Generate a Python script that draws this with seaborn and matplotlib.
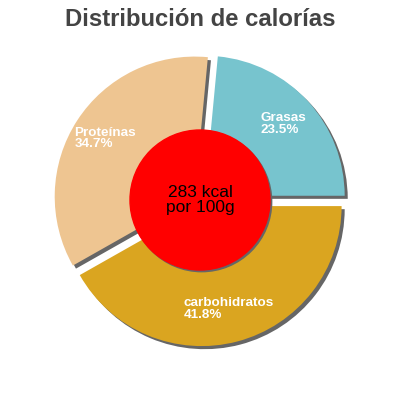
import matplotlib
matplotlib.use("Agg")
import matplotlib.pyplot as plt
import seaborn as sns

sns.set_style("white")
plt.rcParams['font.family'] = ['Liberation Sans', 'DejaVu Sans']

categories = ["Grasas", "Proteínas", "carbohidratos"]
values = [23.5, 34.7, 41.8]
pct_labels = ["23.5%", "34.7%", "41.8%"]
colors = ["#77c4ce", "#eec591", "#daa520"]
title = "Distribución de calorías"
center_text = "283 kcal\npor 100g"

fig = plt.figure(figsize=(4, 4), dpi=100)
ax = fig.add_axes([0, 0, 1, 1])
lim = 200 / 140
ax.set_xlim(-lim, lim)
ax.set_ylim(-lim, lim)
ax.set_aspect('equal')
ax.axis('off')

explode = [0.045] * len(values)
sh = 0.022
# shadows
ax.pie(values, colors=["#666666"] * len(values), explode=explode, startangle=0,
       counterclock=True, center=(sh, -sh), radius=1.0,
       wedgeprops=dict(linewidth=0))
labels = [f"{c}\n{p}" for c, p in zip(categories, pct_labels)]
wedges, texts = ax.pie(values, colors=colors, explode=explode, startangle=0,
                       counterclock=True, radius=1.0, labels=labels,
                       labeldistance=0.76,
                       textprops=dict(color="white", fontsize=9.7,
                                      fontweight='bold', linespacing=0.95),
                       wedgeprops=dict(linewidth=0))
for t in texts:
    t.set_ha('center')
    t.set_va('center')
    t.set_multialignment('left')

ax.set_xlim(-lim, lim)
ax.set_ylim(-lim, lim)

circ_sh = plt.Circle((0.012, -0.012), 0.5, color="#666666", zorder=5)
circ = plt.Circle((0, 0), 0.5, color="#ff0000", zorder=6)
ax.add_patch(circ_sh)
ax.add_patch(circ)
ax.text(0, 0, center_text, ha='center', va='center', fontsize=12.5, color='black',
        zorder=7, linespacing=1.0)

fig.text(0.5, 0.952, title, ha='center', va='center', fontsize=17.2,
         fontweight='bold', color='#444444')

fig.savefig("out.png", dpi=100)
